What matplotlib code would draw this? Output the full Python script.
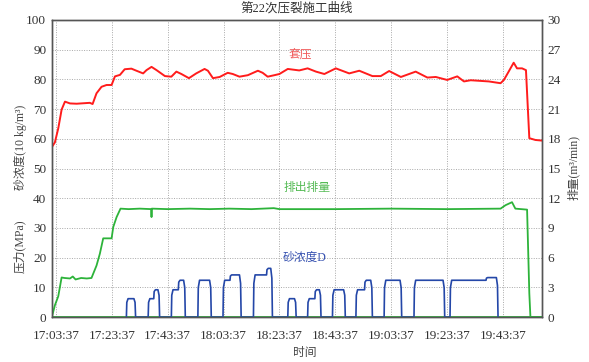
import matplotlib
matplotlib.use("Agg")
import matplotlib.pyplot as plt

plt.rcParams['font.family'] = ['Liberation Serif', 'Noto Sans CJK SC', 'DejaVu Sans']

# time in minutes after 17:03:37
x_ticks = [0, 20, 40, 60, 80, 100, 120, 140, 160]
x_labels = ["17:03:37", "17:23:37", "17:43:37", "18:03:37", "18:23:37",
            "18:43:37", "19:03:37", "19:23:37", "19:43:37"]

# 套压 (left axis)
red_t = [-1.5, -0.4, 0.8, 2.0, 3.2, 5.0, 7.4, 12.1, 13.1, 14.5, 16.3, 18.1, 19.9,
         21.1, 22.9, 24.6, 27.0, 28.8, 31.2, 32.4, 34.2, 36.0, 39.0, 41.3, 43.1,
         44.9, 47.6, 50.2, 53.2, 54.4, 56.2, 58.6, 61.5, 63.3, 65.7, 68.7, 72.3,
         74.0, 75.8, 78.2, 80.0, 83.0, 87.1, 90.1, 93.1, 96.1, 100.2, 105.0,
         108.6, 113.3, 116.3, 119.3, 123.5, 128.8, 133.0, 136.0, 140.1, 143.7,
         146.1, 148.5, 155.0, 159.2, 160.4, 162.1, 163.9, 165.1, 166.9, 168.3,
         169.5, 171.7, 174.0]
red_v = [57.2, 58.8, 63.5, 69.8, 72.5, 71.9, 71.8, 72.1, 71.7, 75.3, 77.5, 78.1, 78.1,
         81.0, 81.5, 83.4, 83.6, 82.9, 82.0, 83.1, 84.2, 83.1, 81.1, 80.9, 82.6,
         81.8, 80.4, 82.0, 83.5, 82.9, 80.4, 80.8, 82.2, 81.8, 80.9, 81.4, 82.9,
         82.2, 80.9, 81.4, 81.8, 83.5, 83.0, 83.7, 82.6, 81.8, 83.7, 82.0,
         82.9, 81.1, 81.1, 82.8, 80.8, 82.6, 80.6, 80.8, 79.8, 81.0,
         79.3, 79.7, 79.3, 78.7, 79.8, 82.6, 85.6, 83.7, 83.7, 83.1,
         60.2, 59.6, 59.4]

# 排出排量 (right axis, m3/min)
green_t = [-1.5, -1.5, -0.4, 0.8, 2.0, 3.0, 5.0, 6.0, 7.0, 9.0, 11.0, 12.7, 14.5,
           15.7, 16.9, 19.9, 20.5, 21.7, 23.1, 26.0, 30.0, 34.1, 34.2, 34.3, 40.0,
           48.0, 55.0, 62.0, 70.0, 78.0, 80.0, 100.0, 120.0, 140.0, 159.2, 161.0,
           163.3, 164.5, 168.7, 169.5, 169.9, 174.0]
green_v = [16.6, 0.0, 1.2, 2.1, 4.0, 3.95, 3.9, 4.1, 3.8, 3.95, 3.9, 3.95, 5.2,
           6.4, 7.95, 7.95, 9.1, 10.1, 10.95, 10.9, 10.95, 10.9, 10.1, 10.95, 10.9,
           10.95, 10.9, 10.95, 10.9, 11.0, 10.9, 10.9, 10.95, 10.9, 10.95, 11.3,
           11.6, 10.95, 10.85, 2.4, 0.0, 0.0]

# baseline green series at zero
base_t = [-1.5, 174.0]
base_v = [0.0, 0.0]

# 砂浓度D pulses (left axis)
blue_on = [25.2, 33.0, 41.3, 50.8, 59.8, 70.7, 83.0, 90.1, 99.0, 107.4, 117.5, 128.2, 141.1]
blue_step = [None, 35.0, 43.8, None, 62.3, 75.4, None, 92.7, None, 110.5, None, None, 154.0]
blue_off = [28.5, 37.1, 46.3, 55.6, 66.3, 77.5, 86.0, 94.9, 103.6, 113.3, 123.8, 139.2, 158.3]
blue_lv1 = [6.2, 6.2, 9.2, 12.4, 12.4, 14.2, 6.2, 6.2, 9.2, 9.2, 12.4, 12.4, 12.4]
blue_lv2 = [6.2, 9.2, 12.4, 12.4, 14.2, 16.4, 6.2, 9.2, 9.2, 12.4, 12.4, 12.4, 13.3]

blue_t = []
blue_v = []
for on, st, off, l1, l2 in zip(blue_on, blue_step, blue_off, blue_lv1, blue_lv2):
    blue_t += [on, on + 0.15, on + 0.6]
    blue_v += [0, l1 * 0.8, l1]
    if st is not None:
        blue_t += [st, st + 0.15, st + 0.6]
        blue_v += [l1, l1 + (l2 - l1) * 0.8, l2]
    blue_t += [off - 0.6, off - 0.2, off]
    blue_v += [l2, l2 * 0.8, 0]

fig = plt.figure(figsize=(5.89, 3.62), dpi=100)
ax = fig.add_axes([0.088, 0.124, 0.832, 0.821])
ax2 = ax.twinx()

ax.plot(base_t, base_v, color='#2db33a', lw=1.3, zorder=2)
ax.plot(blue_t, blue_v, color='#2447a8', lw=1.2, zorder=3)
ax.plot(red_t, red_v, color='#ff1c1c', lw=1.4, zorder=3)
ax2.plot(green_t, green_v, color='#2db33a', lw=1.3)

ax.set_xlim(-1.5, 174)
ax.set_ylim(0, 100)
ax2.set_ylim(0, 30)
ax.set_xticks(x_ticks)
ax.set_xticklabels(x_labels)
ax.set_yticks(range(0, 101, 10))
ax2.set_yticks(range(0, 31, 3))
ax.grid(True, color='#a8a8a8', ls=(0, (1, 1.5)), lw=0.7)
ax.set_axisbelow(True)

for a in (ax, ax2):
    a.tick_params(length=0, labelsize=9.5, colors='#333333', pad=4)
    for s in a.spines.values():
        s.set_color('#555555')
        s.set_linewidth(1.0)
ax.tick_params(axis='x', pad=9)

fig.text(0.503, 0.978, "第22次压裂施工曲线", ha='center', va='center', fontsize=9, color='#333333')
fig.text(0.034, 1 - 147 / 362, "砂浓度(10 kg/m³)", rotation=90, ha='center', va='center',
         fontsize=8.5, color='#444444')
fig.text(0.034, 1 - 246 / 362, "压力(MPa)", rotation=90, ha='center', va='center',
         fontsize=8.5, color='#444444')
fig.text(0.973, 1 - 168 / 362, "排量(m³/min)", rotation=90, ha='center', va='center',
         fontsize=8.5, color='#444444')
fig.text(0.518, 0.025, "时间", ha='center', va='center', fontsize=8.5, color='#444444')

fig.text(300 / 589, 1 - 56 / 362, "套压", ha='center', va='center', fontsize=8.5, color='#f05a5a')
fig.text(307 / 589, 1 - 188 / 362, "排出排量", ha='center', va='center', fontsize=8.5, color='#55bb55')
fig.text(305 / 589, 1 - 258 / 362, "砂浓度D", ha='center', va='center', fontsize=8.5, color='#3550b0')

fig.savefig("out.png", dpi=100)
